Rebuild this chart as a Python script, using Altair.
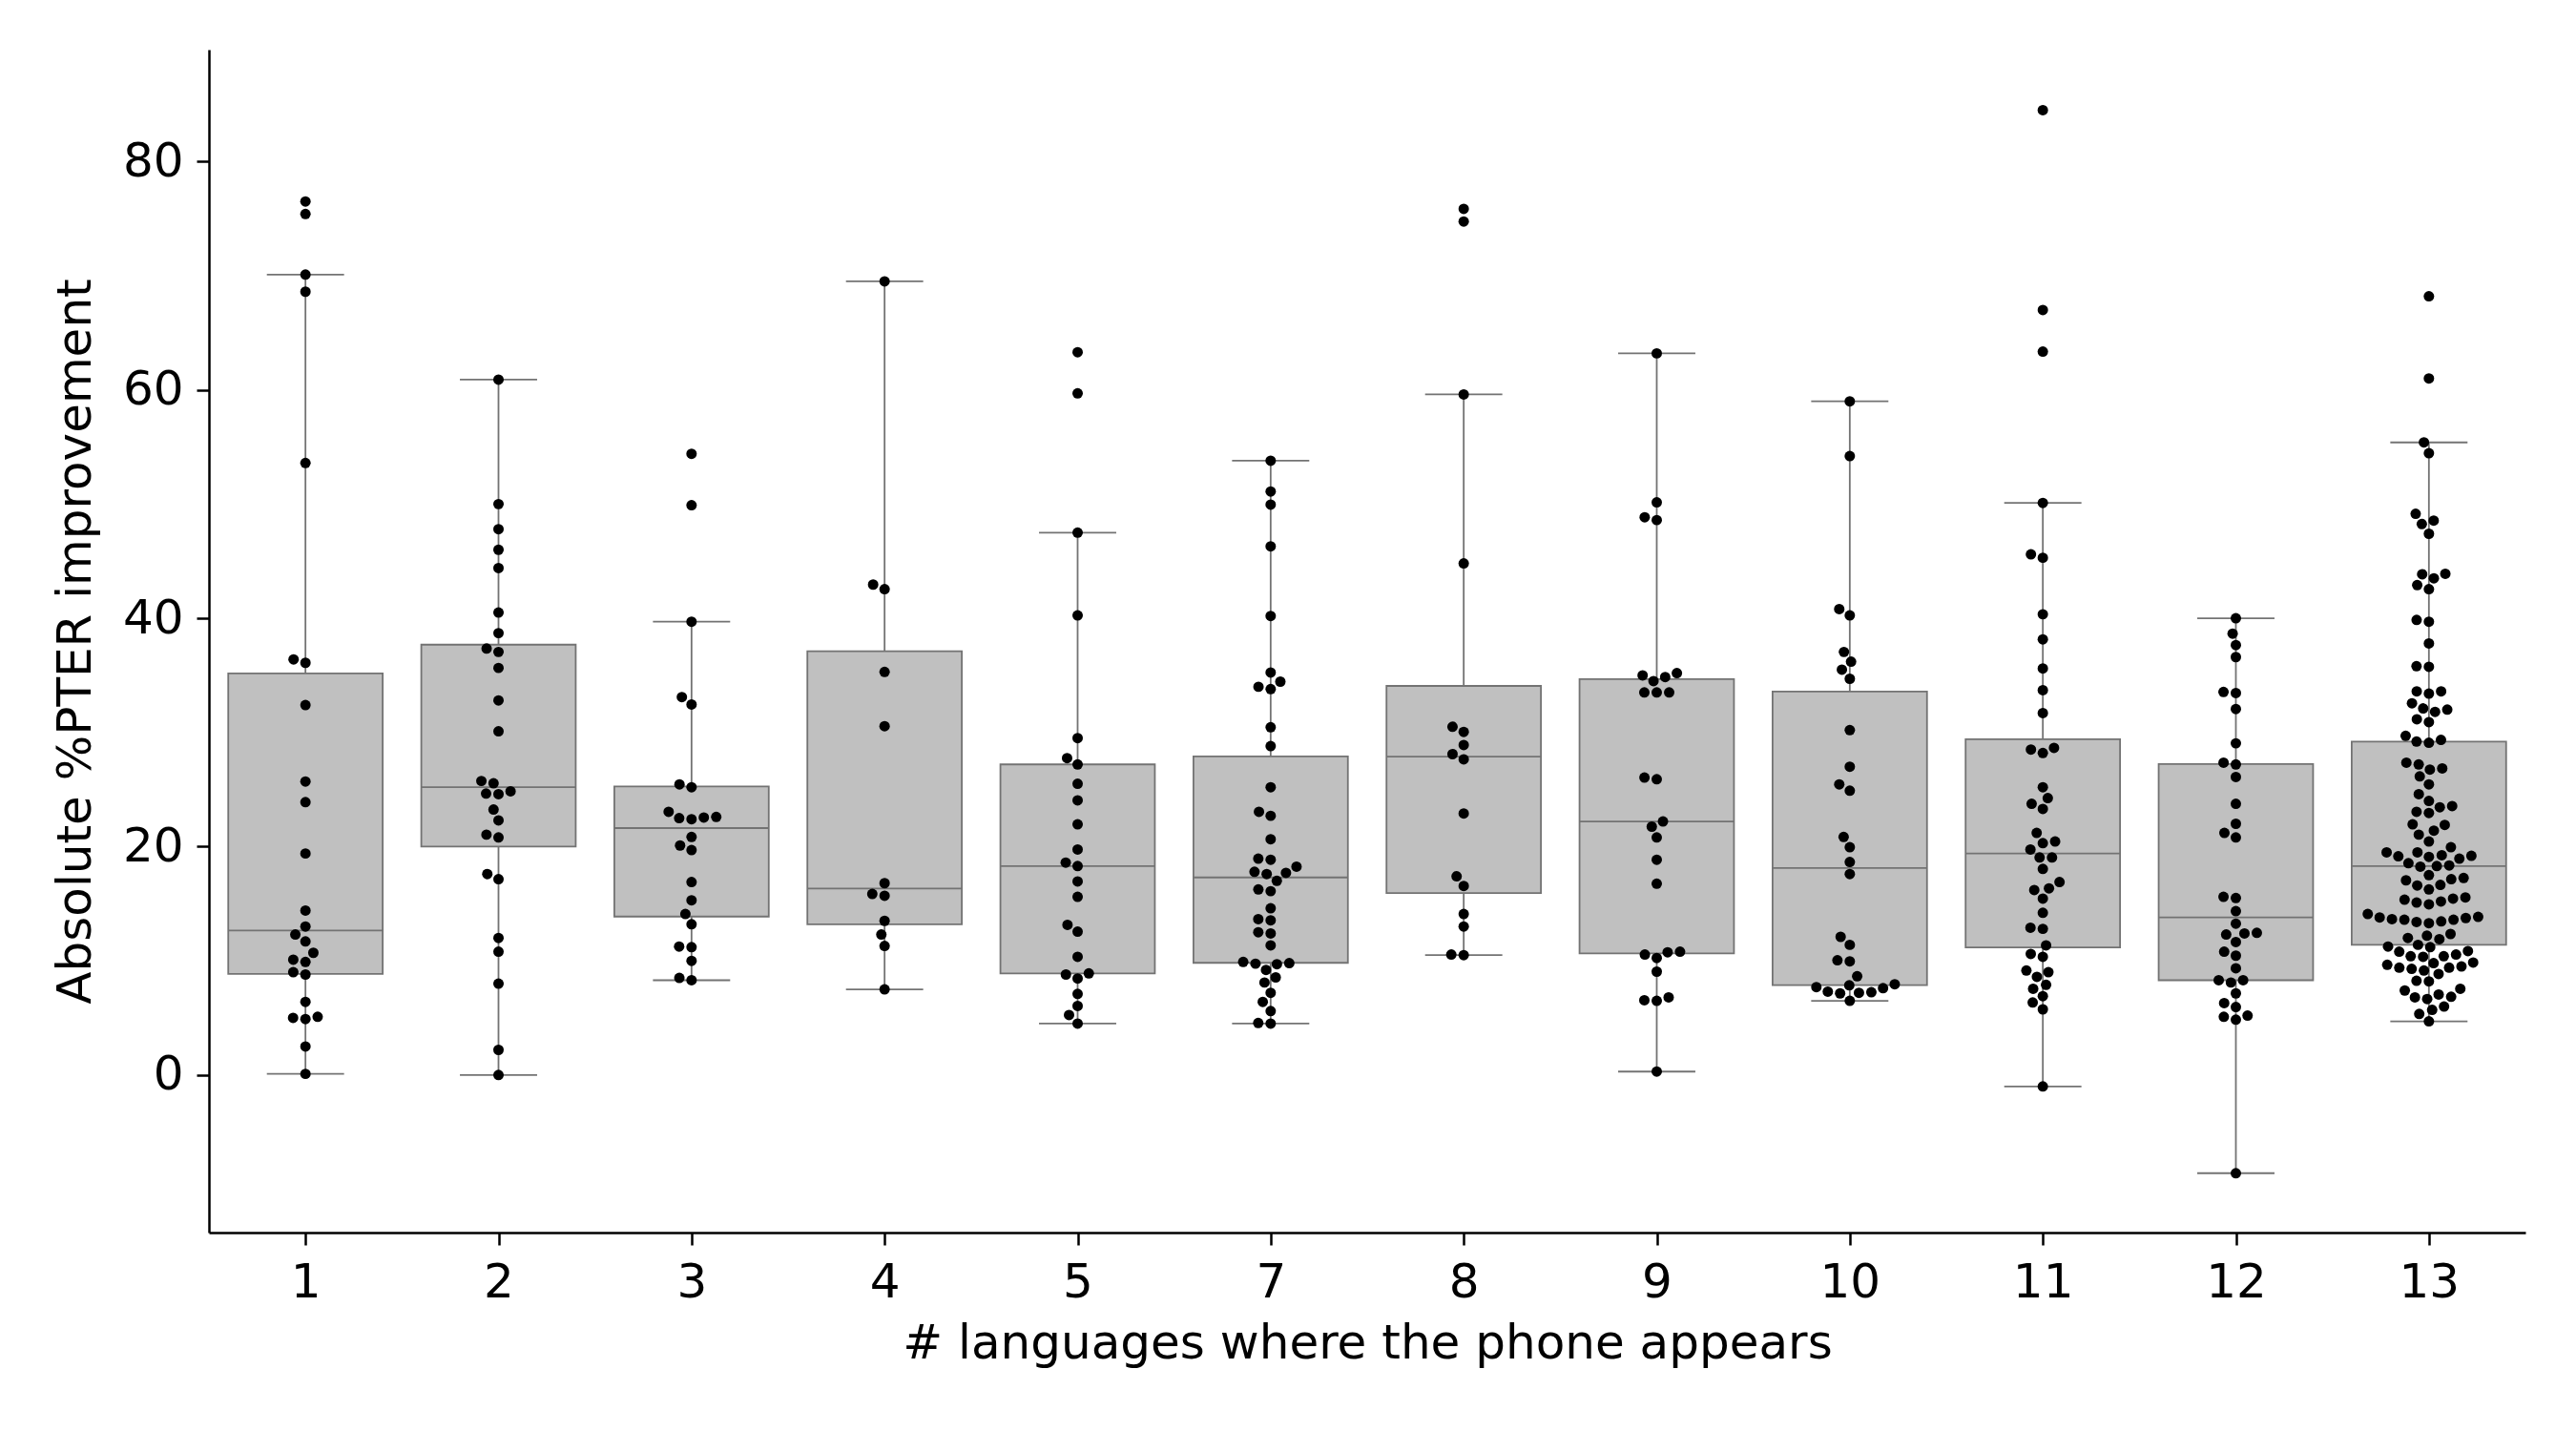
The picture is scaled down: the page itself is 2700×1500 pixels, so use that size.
import numpy as np
import pandas as pd
import altair as alt

# ---------------- data ----------------
categories = ["1", "2", "3", "4", "5", "7", "8", "9", "10", "11", "12", "13"]

g1 = [76.5, 75.4, 70.1, 68.6, 53.6, 36.4, 36.1, 32.4, 25.7, 23.9, 19.4, 14.4, 13.0,
      12.3, 11.7, 10.7, 10.1, 9.9, 9.0, 8.8, 6.4, 5.1, 5.0, 4.9, 2.5, 0.1]
g2 = [60.9, 50.0, 47.8, 46.0, 44.4, 40.5, 38.7, 37.35, 37.05, 35.65, 32.8, 30.1, 25.75,
      25.55, 24.85, 24.65, 24.6, 23.25, 22.3, 21.05, 20.8, 17.6, 17.15, 12.0, 10.8, 8.0,
      2.2, 0.0]
g3 = [54.4, 49.9, 39.7, 33.1, 32.45, 25.45, 25.2, 23.05, 22.55, 22.4, 22.5, 22.6, 20.85,
      20.1, 19.7, 16.9, 15.3, 14.1, 13.2, 11.25, 11.2, 10.0, 8.5, 8.3]
g4 = [69.5, 42.95, 42.55, 35.3, 30.55, 16.8, 15.85, 15.7, 13.5, 12.3, 11.3, 7.5]
g5 = [63.3, 59.7, 47.5, 40.25, 29.5, 27.75, 27.2, 25.5, 24.05, 21.95, 19.75, 18.6, 18.3,
      16.95, 15.6, 13.15, 12.55, 10.35, 8.9, 8.8, 8.45, 7.1, 6.05, 5.25, 4.5]
g7 = [53.8, 51.1, 49.95, 46.3, 40.2, 35.25, 34.0, 34.45, 33.8, 30.45, 28.8, 25.2, 23.05,
      22.7, 20.65, 18.85, 18.95, 18.25, 17.8, 17.6, 17.7, 17.0, 16.25, 16.1, 14.6, 13.65,
      13.55, 12.4, 12.5, 11.35, 9.9, 9.75, 9.2, 9.7, 9.8, 8.55, 8.1, 7.2, 6.4, 5.6, 4.55, 4.5]
g8 = [75.85, 74.75, 59.6, 44.8, 30.5, 30.05, 28.9, 28.1, 27.65, 22.9, 17.4, 16.55, 14.1,
      13.0, 10.55, 10.5]
g9 = [63.2, 50.15, 48.85, 48.6, 35.2, 35.0, 34.85, 34.5, 33.5, 33.5, 33.5, 26.05, 25.9,
      21.75, 22.2, 20.8, 18.85, 16.75, 10.55, 10.25, 10.75, 10.8, 9.05, 6.55, 6.5, 6.8, 0.3]
g10 = [59.0, 54.2, 40.8, 40.25, 37.05, 36.2, 35.5, 34.7, 30.2, 27.0, 25.45, 24.9, 20.85,
       19.95, 18.65, 17.6, 12.1, 11.4, 10.05, 9.95, 8.65, 7.7, 7.25, 7.2, 7.85, 7.3, 7.15,
       7.6, 7.95, 6.5]
g11 = [84.5, 67.0, 63.35, 50.1, 45.6, 45.3, 40.35, 38.15, 35.6, 33.7, 31.7, 28.5, 28.2,
       28.65, 25.2, 24.25, 23.75, 23.3, 21.2, 20.3, 20.45, 19.75, 19.05, 19.05, 18.05, 16.9,
       16.35, 16.2, 15.45, 14.2, 12.9, 12.8, 11.35, 10.6, 10.35, 9.15, 8.6, 9.0, 7.55, 7.9,
       6.9, 6.35, 5.75, -1.0]
g12 = [40.0, 38.65, 37.65, 36.6, 33.55, 33.45, 32.05, 29.05, 27.35, 27.2, 26.1, 23.75,
       22.0, 21.2, 20.8, 15.6, 15.5, 14.35, 13.25, 12.3, 12.4, 12.45, 11.65, 10.8, 10.45,
       9.35, 8.3, 8.1, 8.3, 7.15, 6.3, 5.95, 5.1, 4.85, 5.2, -8.6]
g13 = [68.2, 61.0, 55.4, 54.45, 49.15, 48.25, 48.55, 47.4, 43.85, 43.5, 43.9, 42.9, 42.55,
       39.85, 39.7, 37.8, 35.8, 35.75, 33.6, 33.4, 33.6, 32.55, 32.1, 31.8, 32.0, 31.15,
       30.9, 29.7, 29.2, 29.1, 29.35,
       27.35, 27.2, 26.85, 26.75, 26.15, 25.45, 24.6, 24.0, 23.55, 23.45, 23.05, 22.95,
       21.95, 21.9, 21.4, 21.05, 20.45, 19.95, 19.5, 19.5, 19.25, 19.15, 18.95, 19.1, 19.2,
       18.55, 18.35, 18.3,
       18.25, 17.5, 17.25, 17.15, 17.05, 16.65, 16.6, 16.25, 15.55, 15.45, 15.2, 14.95,
       15.1, 15.35, 13.85, 13.75, 13.6, 13.4, 13.3, 13.45, 13.6, 13.65, 13.8, 14.1, 12.35,
       11.9, 12.0, 12.2, 11.4,
       11.2, 11.25, 10.55, 10.4, 10.4, 10.35, 10.85, 10.8, 9.85, 9.65, 9.4, 9.15, 9.3,
       8.85, 9.4, 9.5, 9.8, 8.2, 8.25, 7.55, 6.85, 6.8, 6.65, 7.05, 7.4, 5.35, 5.7, 6.0, 4.7]

groups = [g1, g2, g3, g4, g5, g7, g8, g9, g10, g11, g12, g13]

# ---------------- geometry ----------------
W, H = 2428, 1240
Y_MIN, Y_MAX = -13.8, 89.8
R = 6.2                      # marker radius in px
PPU_Y = H / (Y_MAX - Y_MIN)  # px per data unit (y)
STEP = W / len(categories)   # px per category


def beeswarm(vals, ppu, r):
    """seaborn-style beeswarm: returns horizontal offsets in px."""
    ys = np.asarray(vals, float) * ppu
    order = np.argsort(ys, kind="stable")
    xs = np.zeros(len(ys))
    swarm = []
    for i in order:
        y_i = ys[i]
        if not swarm:
            swarm.append((0.0, y_i))
            xs[i] = 0.0
            continue
        neighbors = []
        for xj, yj in reversed(swarm):
            if y_i - yj < 2 * r:
                neighbors.append((xj, yj))
            else:
                break
        cands = [0.0]
        left_first = True
        for xj, yj in neighbors:
            dy = y_i - yj
            dx = np.sqrt(max((2 * r) ** 2 - dy ** 2, 0)) * 1.05
            cands.extend([xj - dx, xj + dx] if left_first else [xj + dx, xj - dx])
            left_first = not left_first
        cands = sorted(cands, key=abs)
        chosen = cands[-1]
        for c in cands:
            if all((c - xj) ** 2 + (y_i - yj) ** 2 >= (2 * r) ** 2 for xj, yj in neighbors):
                chosen = c
                break
        swarm.append((chosen, y_i))
        xs[i] = chosen
    return xs


rows = []
for idx, vals in enumerate(groups):
    offs = beeswarm(vals, PPU_Y, R)
    for v, o in zip(vals, offs):
        rows.append({"idx": idx, "value": v, "xpos": idx + o / STEP})
df = pd.DataFrame(rows)

# ---------------- styles ----------------
GRAY = "#737373"
SILVER = "#c0c0c0"
LW = 1.8
FONT = "DejaVu Sans"

xscale = alt.Scale(domain=[-0.5, 11.5], nice=False, zero=False)
yscale = alt.Scale(domain=[Y_MIN, Y_MAX], nice=False, zero=False)
label_expr = "[" + ",".join(f"'{c}'" for c in categories) + "][datum.value]"

xaxis = alt.Axis(values=list(range(len(categories))), labelExpr=label_expr,
                 title="# languages where the phone appears", grid=False,
                 titleX=W / 2, titleY=131, titleBaseline="alphabetic", titleAlign="center")
yaxis = alt.Axis(values=[0, 20, 40, 60, 80], format="d",
                 title="Absolute %PTER improvement", grid=False,
                 titleX=-125, titleY=H / 2, titleAngle=270,
                 titleBaseline="alphabetic", titleAlign="center")

base = alt.Chart(df)

stats = (
    base.transform_joinaggregate(q1="q1(value)", q3="q3(value)", groupby=["idx"])
    .transform_calculate(lf="datum.q1 - 1.5*(datum.q3 - datum.q1)",
                         uf="datum.q3 + 1.5*(datum.q3 - datum.q1)")
    .transform_filter("datum.value >= datum.lf && datum.value <= datum.uf")
    .transform_aggregate(wlo="min(value)", whi="max(value)", groupby=["idx"])
    .transform_calculate(cl="datum.idx - 0.2", cr="datum.idx + 0.2")
)

whisker = stats.mark_rule(color=GRAY, strokeWidth=LW).encode(
    x=alt.X("idx:Q", scale=xscale, axis=xaxis),
    y=alt.Y("wlo:Q", scale=yscale, axis=yaxis),
    y2="whi:Q",
)
cap_lo = stats.mark_rule(color=GRAY, strokeWidth=LW).encode(
    x=alt.X("cl:Q", scale=xscale, axis=xaxis), x2="cr:Q",
    y=alt.Y("wlo:Q", scale=yscale, axis=yaxis),
)
cap_hi = stats.mark_rule(color=GRAY, strokeWidth=LW).encode(
    x=alt.X("cl:Q", scale=xscale, axis=xaxis), x2="cr:Q",
    y=alt.Y("whi:Q", scale=yscale, axis=yaxis),
)

boxes = (
    base.transform_aggregate(q1="q1(value)", med="median(value)", q3="q3(value)",
                             groupby=["idx"])
    .transform_calculate(lo="datum.idx - 0.4", hi="datum.idx + 0.4")
)
box_rect = boxes.mark_rect(fill=SILVER, stroke=GRAY, strokeWidth=LW).encode(
    x=alt.X("lo:Q", scale=xscale, axis=xaxis), x2="hi:Q",
    y=alt.Y("q1:Q", scale=yscale, axis=yaxis), y2="q3:Q",
)
med_rule = boxes.mark_rule(color=GRAY, strokeWidth=LW).encode(
    x=alt.X("lo:Q", scale=xscale, axis=xaxis), x2="hi:Q",
    y=alt.Y("med:Q", scale=yscale, axis=yaxis),
)

points = base.mark_circle(size=np.pi * R * R, color="black", opacity=1).encode(
    x=alt.X("xpos:Q", scale=xscale, axis=xaxis),
    y=alt.Y("value:Q", scale=yscale, axis=yaxis),
)

chart = (
    alt.layer(whisker, cap_lo, cap_hi, box_rect, med_rule, points)
    .properties(width=W, height=H,
                autosize=alt.AutoSizeParams(type="none"),
                padding={"left": 211, "top": 44, "right": 40, "bottom": 190},
                background="white")
    .configure_view(stroke=None)
    .configure_axis(
        domainColor="black", domainWidth=2.5,
        tickColor="black", tickWidth=2.5, tickSize=13,
        labelFont=FONT, titleFont=FONT,
        labelFontSize=50, titleFontSize=50,
        labelColor="black", titleColor="black",
        titleFontWeight="normal", labelPadding=14,
    )
)

chart.save("out.html", embed_options={"renderer": "svg", "actions": False})
